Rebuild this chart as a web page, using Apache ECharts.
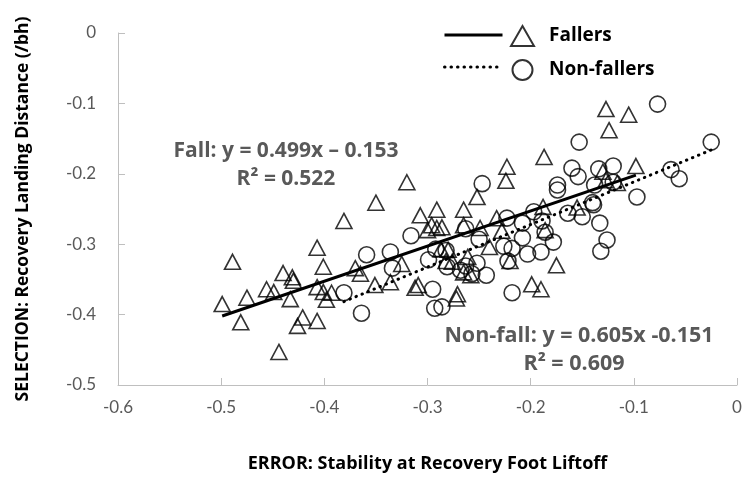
<!DOCTYPE html>
<html>
<head>
<meta charset="utf-8">
<script src="https://cdn.jsdelivr.net/npm/echarts@6/dist/echarts.min.js"></script>
<style>
html,body{margin:0;padding:0;background:#fff;}
#chart{width:751px;height:483px;}
</style>
</head>
<body>
<div id="chart"></div>
<script>
// ---- Data ----
var xTicks = [-0.6, -0.5, -0.4, -0.3, -0.2, -0.1, 0];
var yTicks = [-0.5, -0.4, -0.3, -0.2, -0.1, 0];

var fallersX = [-0.489,-0.499,-0.481,-0.475,-0.456,-0.449,-0.440,-0.431,-0.430,-0.433,
  -0.444,-0.421,-0.426,-0.407,-0.407,-0.320,-0.350,-0.381,-0.401,-0.407,
  -0.401,-0.393,-0.398,-0.370,-0.365,-0.351,-0.336,-0.312,-0.309,-0.271,
  -0.272,-0.325,-0.307,-0.291,-0.265,-0.300,-0.296,-0.291,-0.286,-0.252,
  -0.223,-0.224,-0.265,-0.249,-0.233,-0.228,-0.240,-0.287,-0.280,-0.282,
  -0.276,-0.261,-0.265,-0.258,-0.220,-0.127,-0.105,-0.124,-0.187,-0.098,
  -0.130,-0.127,-0.116,-0.188,-0.155,-0.186,-0.175,-0.199,-0.190];
var fallersY = [-0.325,-0.385,-0.411,-0.376,-0.364,-0.368,-0.341,-0.347,-0.352,-0.378,
  -0.453,-0.404,-0.416,-0.409,-0.305,-0.212,-0.241,-0.267,-0.332,-0.361,
  -0.368,-0.369,-0.379,-0.334,-0.342,-0.358,-0.354,-0.362,-0.358,-0.371,
  -0.377,-0.328,-0.259,-0.251,-0.251,-0.280,-0.273,-0.277,-0.276,-0.233,
  -0.190,-0.210,-0.273,-0.277,-0.263,-0.281,-0.304,-0.307,-0.308,-0.324,
  -0.325,-0.318,-0.340,-0.344,-0.324,-0.108,-0.116,-0.138,-0.176,-0.189,
  -0.197,-0.209,-0.213,-0.247,-0.248,-0.280,-0.330,-0.357,-0.364];

var nonFallersX = [-0.247,-0.316,-0.359,-0.336,-0.334,-0.381,-0.364,-0.295,-0.293,-0.286,
  -0.299,-0.292,-0.282,-0.281,-0.268,-0.263,-0.252,-0.243,-0.257,-0.263,
  -0.250,-0.223,-0.226,-0.218,-0.218,-0.208,-0.208,-0.203,-0.077,-0.153,
  -0.025,-0.160,-0.154,-0.174,-0.174,-0.134,-0.120,-0.138,-0.120,-0.064,
  -0.056,-0.097,-0.140,-0.139,-0.164,-0.150,-0.133,-0.126,-0.132,-0.197,
  -0.189,-0.186,-0.178,-0.190,-0.222];
var nonFallersY = [-0.214,-0.288,-0.315,-0.311,-0.334,-0.369,-0.398,-0.364,-0.391,-0.389,
  -0.322,-0.307,-0.309,-0.332,-0.337,-0.331,-0.327,-0.344,-0.342,-0.278,
  -0.293,-0.263,-0.303,-0.306,-0.369,-0.270,-0.291,-0.314,-0.101,-0.155,
  -0.155,-0.192,-0.204,-0.216,-0.223,-0.193,-0.189,-0.216,-0.212,-0.194,
  -0.207,-0.233,-0.241,-0.244,-0.256,-0.261,-0.270,-0.294,-0.310,-0.254,
  -0.267,-0.283,-0.297,-0.311,-0.324];

// Trend lines as printed on the chart
var fallSlope = 0.499, fallIntercept = -0.153, fallR2 = 0.522;
var nonFallSlope = 0.605, nonFallIntercept = -0.151, nonFallR2 = 0.609;

// ---- Build series data ----
function pairs(xs, ys){ return xs.map(function(x,i){ return [x, ys[i]]; }); }
function trend(xs, m, b){
  var lo = Math.min.apply(null, xs), hi = Math.max.apply(null, xs);
  return [[lo, m*lo + b], [hi, m*hi + b]];
}

var GRAY = '#595959';
var FONT = 'Lato, "Open Sans", sans-serif';
var BFONT = '"Open Sans", Lato, sans-serif';
var DOTS = [0.5, 6];

var chart = echarts.init(document.getElementById('chart'), null, {renderer:'canvas'});
var option = {
  animation: false,
  backgroundColor: '#ffffff',
  grid: { left: 118, right: 14, top: 33, bottom: 98, containLabel: false },
  xAxis: {
    type: 'value', min: xTicks[0], max: xTicks[xTicks.length-1], interval: 0.1,
    name: 'ERROR: Stability at Recovery Foot Liftoff',
    nameLocation: 'middle', nameGap: 70,
    nameTextStyle: { color: '#000', fontFamily: BFONT, fontWeight: 'bold', fontSize: 18 },
    axisLine: { onZero: false, lineStyle: { color: '#BFBFBF', width: 1 } },
    axisTick: { show: true, inside: true, length: 7, lineStyle: { color: '#BFBFBF' } },
    splitLine: { show: false },
    axisLabel: { color: GRAY, fontFamily: FONT, fontSize: 17, margin: 14,
      formatter: function(v){ return String(Math.round(v*10)/10); } }
  },
  yAxis: {
    type: 'value', min: yTicks[0], max: yTicks[yTicks.length-1], interval: 0.1,
    name: 'SELECTION: Recovery Landing Distance (/bh)',
    nameLocation: 'middle', nameGap: 86, nameRotate: 90,
    nameTextStyle: { color: '#000', fontFamily: BFONT, fontWeight: 'bold', fontSize: 17.5 },
    axisLine: { onZero: false, lineStyle: { color: '#BFBFBF', width: 1 } },
    axisTick: { show: true, inside: true, length: 7, lineStyle: { color: '#BFBFBF' } },
    splitLine: { show: false },
    axisLabel: { color: GRAY, fontFamily: FONT, fontSize: 17, margin: 22,
      formatter: function(v){ return String(Math.round(v*10)/10); } }
  },
  legend: [
    {
      data: ['Fall trend', 'Non-fall trend'],
      orient: 'vertical', left: 443, top: 25, padding: 0,
      itemWidth: 58, itemHeight: 20, itemGap: 12,
      formatter: function(){ return ' '; },
      itemStyle: { opacity: 0 },
      lineStyle: { width: 3 },
      textStyle: { fontFamily: BFONT, fontSize: 19, lineHeight: 20 },
      selectedMode: false
    },
    {
      data: ['Fallers', 'Non-fallers'],
      orient: 'vertical', left: 510, top: 25, padding: 0,
      itemWidth: 23, itemHeight: 20, itemGap: 12,
      textStyle: { color: '#000', fontFamily: BFONT, fontWeight: 'bold', fontSize: 19, lineHeight: 20, padding: [0,0,0,10] },
      selectedMode: false
    }
  ],
  series: [
    {
      name: 'Fallers', type: 'scatter', symbol: 'triangle', symbolSize: [16, 15],
      itemStyle: { color: 'rgba(255,255,255,0)', borderColor: '#000', borderWidth: 1.6 },
      data: pairs(fallersX, fallersY), z: 2
    },
    {
      name: 'Non-fallers', type: 'scatter', symbol: 'circle', symbolSize: 16,
      itemStyle: { color: 'rgba(255,255,255,0)', borderColor: '#000', borderWidth: 1.6 },
      data: pairs(nonFallersX, nonFallersY), z: 2
    },
    {
      name: 'Fall trend', type: 'line', symbol: 'none', showSymbol: false,
      lineStyle: { color: '#000', width: 3, type: 'solid' },
      itemStyle: { color: '#000' },
      data: trend(fallersX, fallSlope, fallIntercept), z: 5
    },
    {
      name: 'Non-fall trend', type: 'line', symbol: 'none', showSymbol: false,
      lineStyle: { color: '#000', width: 3, type: DOTS, cap: 'round' },
      itemStyle: { color: '#000' },
      data: trend(nonFallersX, nonFallSlope, nonFallIntercept), z: 5
    }
  ],
  graphic: [
    { type: 'text', x: 286, y: 151, z: 10, style: { text: 'Fall: y = 0.499x \u2013 0.153', fill: GRAY,
      font: 'bold 21px ' + BFONT, textAlign: 'center', textVerticalAlign: 'middle' } },
    { type: 'text', x: 286, y: 179, z: 10, style: { text: 'R\u00B2 = ' + fallR2.toFixed(3), fill: GRAY,
      font: 'bold 21px ' + BFONT, textAlign: 'center', textVerticalAlign: 'middle' } },
    { type: 'text', x: 579, y: 336, z: 10, style: { text: 'Non-fall: y = 0.605x -0.151', fill: GRAY,
      font: 'bold 21.5px ' + BFONT, textAlign: 'center', textVerticalAlign: 'middle' } },
    { type: 'text', x: 574, y: 364, z: 10, style: { text: 'R\u00B2 = ' + nonFallR2.toFixed(3), fill: GRAY,
      font: 'bold 21.5px ' + BFONT, textAlign: 'center', textVerticalAlign: 'middle' } }
  ]
};
chart.setOption(option);
</script>
</body>
</html>
